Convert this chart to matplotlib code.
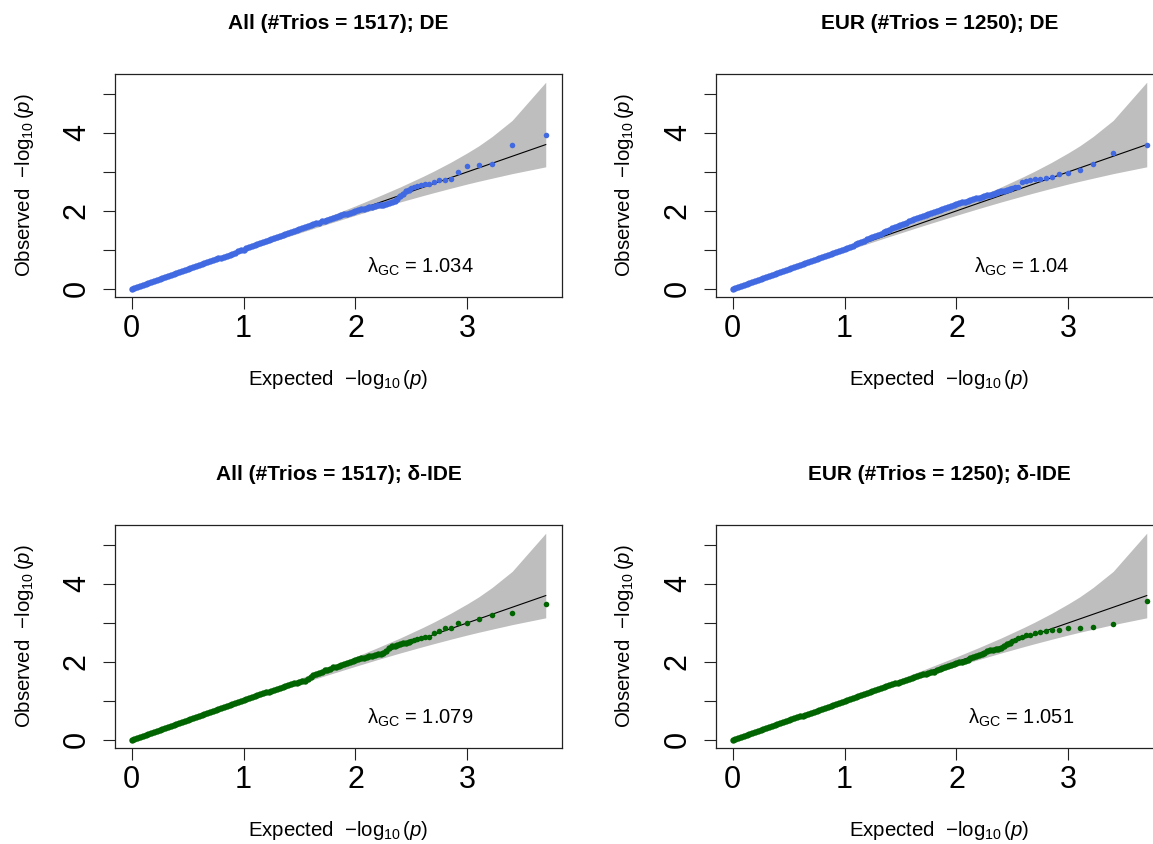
import numpy as np
import matplotlib.pyplot as plt

plt.rcParams['font.family'] = 'Liberation Sans'
plt.rcParams['mathtext.fontset'] = 'custom'
plt.rcParams['mathtext.rm'] = 'Liberation Sans'
plt.rcParams['mathtext.it'] = 'Liberation Sans:italic'
plt.rcParams['mathtext.bf'] = 'Liberation Sans:bold'

titles = ['All (#Trios = 1517); DE', 'EUR (#Trios = 1250); DE',
          'All (#Trios = 1517); δ-IDE', 'EUR (#Trios = 1250); δ-IDE']
lambda_gc = ['1.034', '1.04', '1.079', '1.051']
point_colors = ['royalblue', 'royalblue', 'darkgreen', 'darkgreen']

# expected -log10(p): bulk of the genes and the top-ranked ones
exp_bulk = [0.000, 0.025, 0.050, 0.075, 0.100, 0.125, 0.150, 0.175, 0.200, 0.225,
            0.250, 0.275, 0.300, 0.325, 0.350, 0.375, 0.400, 0.425, 0.450, 0.475,
            0.500, 0.525, 0.550, 0.575, 0.600, 0.625, 0.650, 0.675, 0.700, 0.725,
            0.750, 0.775, 0.800, 0.825, 0.850, 0.875, 0.900, 0.925, 0.950, 0.975,
            1.000, 1.025, 1.050, 1.075, 1.100, 1.125, 1.150, 1.175, 1.200, 1.225,
            1.250, 1.275, 1.300, 1.325, 1.350, 1.375, 1.400, 1.425, 1.450, 1.475,
            1.500, 1.525, 1.550, 1.575, 1.600, 1.625, 1.650, 1.675, 1.700, 1.725,
            1.750, 1.775, 1.800, 1.825, 1.850, 1.875, 1.900, 1.925, 1.950, 1.975,
            2.000, 2.025, 2.050, 2.075, 2.100, 2.125, 2.150, 2.175, 2.200, 2.225,
            2.250, 2.275, 2.300, 2.325, 2.350, 2.375, 2.400, 2.425, 2.450, 2.475]
exp_tail = [3.70, 3.40, 3.22, 3.10, 3.00, 2.92, 2.85, 2.80, 2.75, 2.70,
            2.66, 2.62, 2.59, 2.55, 2.52, 2.50]

# observed -log10(p)
obs_all_de = [0.01, 0.03, 0.05, 0.075, 0.10, 0.125, 0.15, 0.175, 0.20, 0.225,
              0.25, 0.275, 0.30, 0.325, 0.35, 0.375, 0.40, 0.43, 0.45, 0.48,
              0.505, 0.53, 0.555, 0.58, 0.605, 0.63, 0.655, 0.68, 0.705, 0.73,
              0.755, 0.78, 0.805, 0.83, 0.855, 0.88, 0.905, 0.93, 0.96, 0.985,
              1.01, 1.04, 1.07, 1.10, 1.125, 1.155, 1.18, 1.205, 1.23, 1.255,
              1.28, 1.305, 1.33, 1.355, 1.38, 1.405, 1.43, 1.455, 1.48, 1.505,
              1.53, 1.555, 1.58, 1.605, 1.63, 1.655, 1.68, 1.70, 1.73, 1.75,
              1.77, 1.80, 1.82, 1.845, 1.87, 1.89, 1.91, 1.93, 1.95, 1.975,
              2.00, 2.02, 2.04, 2.06, 2.08, 2.095, 2.11, 2.125, 2.14, 2.15,
              2.16, 2.18, 2.20, 2.22, 2.26, 2.31, 2.38, 2.44, 2.50, 2.54]
obs_all_de_tail = [3.95, 3.69, 3.20, 3.18, 3.14, 2.99, 2.81, 2.79, 2.78, 2.73,
                   2.70, 2.69, 2.67, 2.65, 2.62, 2.58]

obs_eur_de = [0.01, 0.03, 0.05, 0.075, 0.10, 0.125, 0.15, 0.175, 0.20, 0.225,
              0.25, 0.275, 0.30, 0.325, 0.35, 0.375, 0.40, 0.425, 0.45, 0.485,
              0.51, 0.535, 0.56, 0.585, 0.61, 0.635, 0.66, 0.685, 0.71, 0.735,
              0.76, 0.785, 0.81, 0.835, 0.86, 0.885, 0.91, 0.94, 0.965, 0.99,
              1.02, 1.05, 1.08, 1.11, 1.14, 1.17, 1.20, 1.235, 1.27, 1.30,
              1.33, 1.36, 1.39, 1.42, 1.45, 1.485, 1.52, 1.55, 1.58, 1.61,
              1.64, 1.67, 1.70, 1.73, 1.76, 1.79, 1.82, 1.845, 1.87, 1.895,
              1.93, 1.955, 1.98, 2.005, 2.03, 2.055, 2.08, 2.105, 2.13, 2.15,
              2.17, 2.195, 2.22, 2.24, 2.26, 2.28, 2.30, 2.32, 2.34, 2.36,
              2.38, 2.40, 2.42, 2.44, 2.46, 2.48, 2.50, 2.52, 2.54, 2.56]
obs_eur_de_tail = [3.70, 3.49, 3.20, 3.04, 2.97, 2.95, 2.88, 2.85, 2.83, 2.81,
                   2.78, 2.77, 2.75, 2.62, 2.60, 2.58]

obs_all_ide = [0.01, 0.03, 0.05, 0.075, 0.10, 0.125, 0.15, 0.175, 0.20, 0.225,
               0.25, 0.275, 0.30, 0.325, 0.35, 0.375, 0.40, 0.425, 0.45, 0.485,
               0.51, 0.535, 0.56, 0.585, 0.61, 0.635, 0.66, 0.685, 0.71, 0.735,
               0.76, 0.785, 0.81, 0.835, 0.86, 0.885, 0.91, 0.94, 0.965, 0.99,
               1.02, 1.045, 1.07, 1.095, 1.12, 1.145, 1.17, 1.195, 1.22, 1.24,
               1.265, 1.29, 1.31, 1.335, 1.36, 1.38, 1.40, 1.425, 1.45, 1.47,
               1.49, 1.505, 1.52, 1.55, 1.60, 1.66, 1.70, 1.72, 1.75, 1.78,
               1.80, 1.83, 1.86, 1.88, 1.90, 1.93, 1.95, 1.98, 2.00, 2.03,
               2.05, 2.07, 2.09, 2.10, 2.12, 2.14, 2.16, 2.175, 2.19, 2.205,
               2.22, 2.28, 2.36, 2.40, 2.42, 2.44, 2.46, 2.475, 2.49, 2.51]
obs_all_ide_tail = [3.48, 3.25, 3.19, 3.10, 3.01, 3.00, 2.88, 2.86, 2.79, 2.73,
                    2.65, 2.63, 2.60, 2.58, 2.56, 2.53]

obs_eur_ide = [0.01, 0.03, 0.05, 0.075, 0.10, 0.125, 0.15, 0.175, 0.20, 0.225,
               0.25, 0.275, 0.30, 0.325, 0.35, 0.375, 0.40, 0.425, 0.45, 0.475,
               0.50, 0.525, 0.55, 0.575, 0.60, 0.625, 0.65, 0.675, 0.70, 0.725,
               0.75, 0.775, 0.80, 0.825, 0.85, 0.875, 0.90, 0.925, 0.95, 0.975,
               1.00, 1.025, 1.05, 1.075, 1.10, 1.125, 1.15, 1.175, 1.20, 1.225,
               1.25, 1.275, 1.30, 1.325, 1.35, 1.375, 1.40, 1.425, 1.45, 1.47,
               1.49, 1.51, 1.54, 1.56, 1.59, 1.61, 1.64, 1.665, 1.69, 1.70,
               1.72, 1.735, 1.75, 1.78, 1.82, 1.85, 1.88, 1.90, 1.92, 1.94,
               1.96, 1.985, 2.01, 2.035, 2.06, 2.09, 2.12, 2.15, 2.18, 2.21,
               2.24, 2.27, 2.30, 2.31, 2.33, 2.34, 2.35, 2.40, 2.45, 2.49]
obs_eur_ide_tail = [3.56, 2.96, 2.90, 2.88, 2.86, 2.83, 2.82, 2.80, 2.76, 2.73,
                    2.70, 2.68, 2.65, 2.60, 2.56, 2.53]

observed = [(obs_all_de, obs_all_de_tail), (obs_eur_de, obs_eur_de_tail),
            (obs_all_ide, obs_all_ide_tail), (obs_eur_ide, obs_eur_ide_tail)]

# 95% band for the order statistics (same number of genes in every panel)
band_x = [0.00, 0.50, 1.00, 1.40, 1.70, 2.00, 2.20, 2.40, 2.60, 2.70,
          2.85, 3.00, 3.10, 3.22, 3.40, 3.70]
band_lo = [0.00, 0.482, 0.965, 1.342, 1.619, 1.887, 2.061, 2.229, 2.389, 2.467,
           2.580, 2.690, 2.759, 2.838, 2.955, 3.130]
band_hi = [0.00, 0.518, 1.038, 1.462, 1.790, 2.130, 2.367, 2.614, 2.880, 3.020,
           3.245, 3.490, 3.665, 3.906, 4.320, 5.300]

W, H = 1153, 844
aw, ah = 447.3, 222.7
corners = [(115, 74), (716, 74), (115, 525), (716, 525)]

fig = plt.figure(figsize=(W / 100, H / 100), dpi=100)

for k in range(4):
    left, top = corners[k]
    ax = fig.add_axes([left / W, 1 - (top + ah) / H, aw / W, ah / H])

    ax.fill_between(band_x, band_lo, band_hi, color='#BEBEBE', lw=0, zorder=1)
    ax.plot([0, exp_tail[0]], [0, exp_tail[0]], color='black', lw=0.8, zorder=2)
    bulk, tail = observed[k]
    ax.plot(exp_bulk, bulk, 'o', ms=4.6, mew=0, color=point_colors[k], zorder=3)
    ax.plot(exp_tail, tail, 'o', ms=4.0, mew=0, color=point_colors[k], zorder=3)

    ax.set_xlim(-0.148, 3.848)
    ax.set_ylim(-0.2, 5.51)
    ax.set_xticks([0, 1, 2, 3])
    ax.set_yticks([0, 1, 2, 3, 4, 5])
    ax.set_yticklabels(['0', '', '2', '', '4', ''])
    ax.tick_params(direction='out', length=8.6, width=0.8, labelsize=22,
                   color='#222222')
    ax.tick_params(axis='x', pad=4)
    ax.tick_params(axis='y', pad=8, labelrotation=90)
    for lab in ax.get_yticklabels():
        lab.set_va('center')
    for sp in ax.spines.values():
        sp.set_linewidth(0.9)
        sp.set_color('#222222')

    ax.set_xlabel(r'Expected  $-\log_{10}(p)$', fontsize=14.7, va='center')
    ax.xaxis.set_label_coords(0.5, -82.5 / ah)
    ax.set_ylabel(r'Observed  $-\log_{10}(p)$', fontsize=14.7, va='center')
    ax.yaxis.set_label_coords(-91 / aw, 0.5)

    ax.text(0.5, 1 + 50.5 / ah, titles[k], transform=ax.transAxes,
            ha='center', va='center', fontsize=15, fontweight='bold')
    ax.text(2.58, 0.57, r'λ$_{\mathrm{GC}}$ = ' + lambda_gc[k],
            ha='center', va='center', fontsize=14.5)

fig.savefig('out.png', dpi=100)
